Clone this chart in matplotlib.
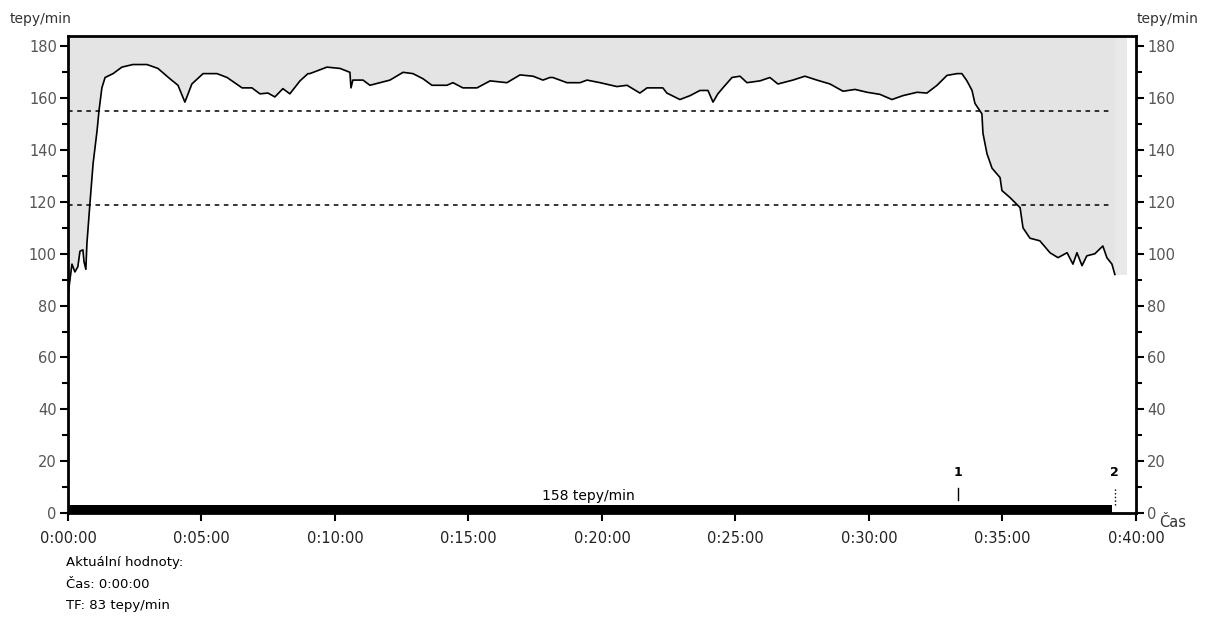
""" Heart rate record (tepy/min) over a 40 minute session """

import matplotlib
matplotlib.use("Agg")
import matplotlib.pyplot as plt
from matplotlib.ticker import MultipleLocator, FuncFormatter

# time in minutes, heart rate in beats per minute
minutes = [0.0, 0.05, 0.15, 0.26, 0.37, 0.45, 0.56, 0.60, 0.67, 0.71, 0.82, 0.94,
           1.09, 1.16, 1.27, 1.39, 1.69, 2.02, 2.43, 2.96, 3.37, 3.82, 4.12,
           4.38, 4.64, 5.06, 5.58, 5.96, 6.52, 6.89, 7.19, 7.49, 7.75, 8.05,
           8.31, 8.69, 8.99, 9.06, 9.70, 10.19, 10.56, 10.60, 10.67, 11.05,
           11.31, 11.69, 12.06, 12.55, 12.92, 13.30, 13.63, 14.19, 14.42,
           14.79, 15.32, 15.81, 16.44, 16.93, 17.42, 17.79, 18.05, 18.16,
           18.69, 19.18, 19.44, 19.93, 20.56, 20.94, 21.42, 21.69, 22.28,
           22.43, 22.92, 23.30, 23.67, 23.97, 24.16, 24.34, 24.53, 24.87,
           25.17, 25.43, 25.92, 26.29, 26.59, 27.04, 27.15, 27.60, 28.05,
           28.54, 29.03, 29.48, 29.93, 30.41, 30.86, 31.27, 31.80, 32.17,
           32.55, 32.92, 33.30, 33.48, 33.67, 33.86, 33.97, 34.23, 34.27,
           34.42, 34.61, 34.91, 34.98, 35.28, 35.66, 35.77, 36.03, 36.40,
           36.78, 37.08, 37.42, 37.64, 37.79, 37.98, 38.16, 38.46, 38.76,
           38.91, 39.10, 39.21]
bpm = [83, 88, 96, 93, 95, 101, 101.5, 97, 94, 104, 119, 134.7,
       147.5, 155, 164, 168, 169.5, 172, 173, 173, 171.5, 167.5, 165,
       158.5, 165.5, 169.5, 169.5, 168, 164, 164, 161.7, 162, 160.5, 163.7,
       161.7, 166.7, 169.5, 169.5, 172, 171.5, 170, 164, 167, 167,
       165, 166, 167, 170, 169.5, 167.5, 165, 165, 166,
       164, 164, 166.7, 166, 169, 168.5, 167, 168, 168,
       166, 166, 167, 166, 164.5, 165, 162, 164, 164,
       162, 159.5, 161, 163, 163, 158.5, 161.7, 164, 168,
       168.5, 166, 166.7, 168, 165.5, 166.7, 167, 168.5, 167,
       165.5, 162.7, 163.4, 162.3, 161.5, 159.5, 161, 162.3, 162,
       165, 168.8, 169.5, 169.5, 166.7, 163, 158, 154, 146.5,
       138.6, 133, 129.4, 124.4, 121.7, 117.8, 110, 106, 105,
       100.4, 98.5, 100.4, 96, 100.4, 95.4, 99.2, 100, 103,
       98.5, 96, 92]

zone_limits = [155, 119]          # dashed lines
bar_height = 3                    # thick bar along the bottom
avg_label = "158 tepy/min"
marks = [33.33, 39.2]             # event marks 1 and 2
mark_names = ["1", "2"]

ymax = 184

fig = plt.figure(figsize=(12.05, 6.2), dpi=100)
ax = fig.add_axes([0.0564, 0.1726, 0.8863, 0.7693])

t_end = minutes[-1]

# grey area above the curve
ax.fill_between(minutes, bpm, ymax, color="#e4e4e4", lw=0)
ax.fill_between([t_end, t_end + 0.45], [bpm[-1]] * 2, ymax, color="#e9e9e9", lw=0)
ax.plot(minutes, bpm, color="black", lw=1.2)

for lim in zone_limits:
    ax.plot([0, t_end - 0.1], [lim, lim], color="black", lw=1.1, ls=(0, (3, 3)))

# bottom bar
ax.fill_between([0, t_end - 0.1], 0, bar_height, color="black", lw=0)
ax.text(19.5, 6.5, avg_label, ha="center", va="center", fontsize=10)

ax.plot([marks[0], marks[0]], [5, 9.5], color="black", lw=1)
ax.plot([marks[1], marks[1]], [3, 9.5], color="black", lw=1, ls=":")
for m, name in zip(marks, mark_names):
    ax.text(m, 15.5, name, ha="center", va="center", fontsize=9, fontweight="bold")

ax.set_xlim(0, 40)
ax.set_ylim(0, ymax)

ax.xaxis.set_major_locator(MultipleLocator(5))
ax.xaxis.set_major_formatter(FuncFormatter(lambda v, p: "0:%02d:00" % int(round(v))))
ax.yaxis.set_major_locator(MultipleLocator(20))
ax.yaxis.set_minor_locator(MultipleLocator(10))

ax.tick_params(axis="y", which="both", direction="out", left=True, right=True,
               labelleft=True, labelright=True, width=1.5,
               labelsize=10.5, labelcolor="#555555", pad=2)
ax.tick_params(axis="y", which="major", length=6)
ax.tick_params(axis="y", which="minor", length=4)
ax.tick_params(axis="x", direction="out", length=6, width=1.5, labelsize=10.5,
               labelcolor="#222222", pad=7)

for s in ax.spines.values():
    s.set_linewidth(2)
    s.set_color("black")

fig.text(0.008, 0.97, "tepy/min", fontsize=10, color="#333333", va="center")
fig.text(0.995, 0.97, "tepy/min", fontsize=10, color="#333333", va="center", ha="right")
fig.text(0.962, 0.158, "Čas", fontsize=10.5, color="#333333", va="center")

fig.text(0.055, 0.093, "Aktuální hodnoty:", fontsize=9.5, va="center")
fig.text(0.055, 0.058, "Čas: 0:00:00", fontsize=9.5, va="center")
fig.text(0.055, 0.023, "TF: 83 tepy/min", fontsize=9.5, va="center")

fig.savefig("out.png", dpi=100)
